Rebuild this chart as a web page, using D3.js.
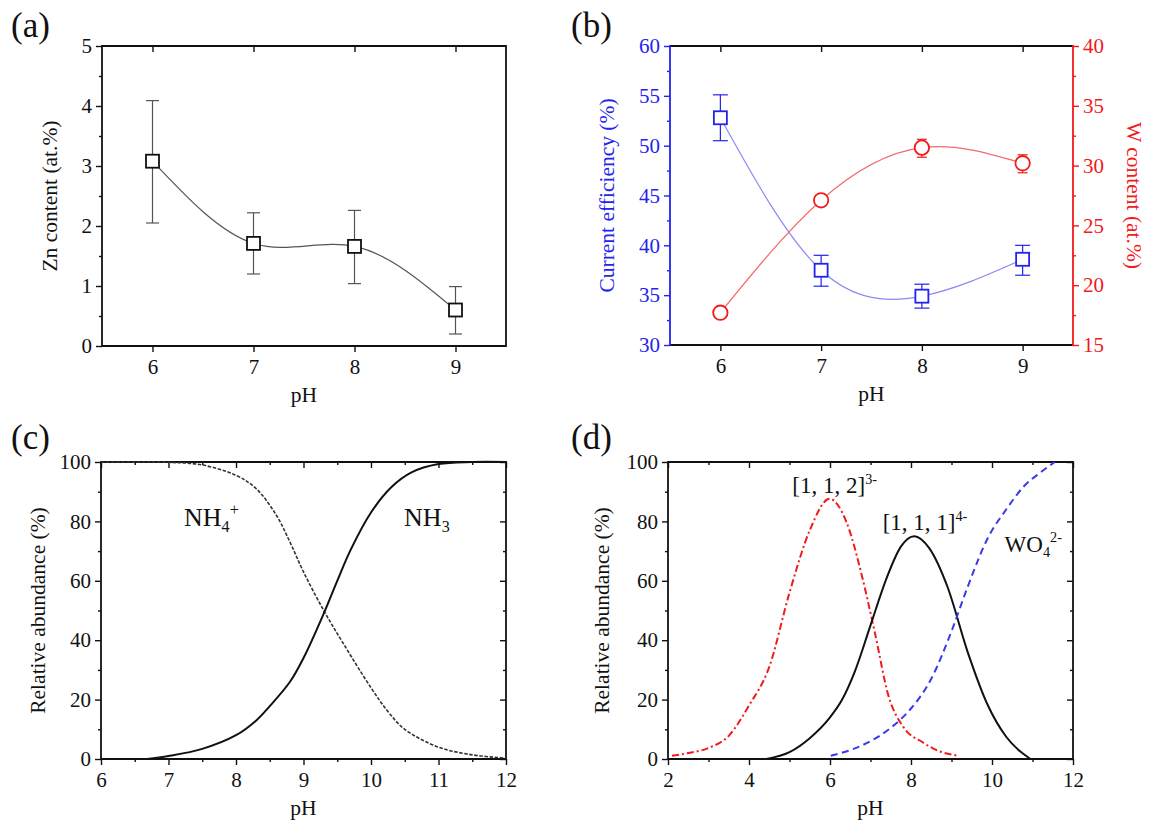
<!doctype html>
<meta charset="utf-8">
<style>
    body { margin: 0; background: #fff; }
    svg text { font-family: "Liberation Serif", "Times New Roman", serif; }
</style>
<body>
<script src="https://d3js.org/d3.v7.min.js"></script>
<script>
    // (a) Zn content vs pH
    const phA = [6, 7, 8, 9];
    const znContent = [3.08, 1.71, 1.66, 0.6];
    const znLow = [2.05, 1.2, 1.04, 0.2];
    const znHigh = [4.09, 2.22, 2.26, 0.99];

    // (b) current efficiency and W content vs pH
    const phB = [6, 7, 8, 9];
    const effValues = [52.8, 37.5, 34.9, 38.6];
    const effLow = [50.5, 35.9, 33.7, 37.0];
    const effHigh = [55.1, 39.0, 36.1, 40.0];
    const wValues = [17.7, 27.1, 31.5, 30.2];
    const wLow = [17.5, 26.7, 30.7, 29.4];
    const wHigh = [17.9, 27.5, 32.2, 30.9];

    // (c) NH4+ / NH3 distribution
    const nh3Ph = [6.68, 7.0, 7.5, 8.0, 8.3, 8.5, 8.8, 9.0, 9.3, 9.5, 9.7, 10.0, 10.3, 10.6, 11.0, 11.5, 12.0];
    const nh3Val = [0, 1.0, 3.4, 8.0, 13, 17.8, 26, 34, 49, 60, 70.5, 83, 91.5, 96.5, 99.3, 100, 100];
    const nh4Ph = [6.0, 6.5, 7.0, 7.5, 8.0, 8.3, 8.6, 8.8, 9.0, 9.3, 9.6, 10.0, 10.25, 10.5, 11.0, 11.5, 12.0];
    const nh4Val = [100, 100, 99.9, 99, 95.5, 91, 82, 73, 63, 50, 38.5, 24, 16, 10, 4, 1.4, 0.3];

    // (d) tungstate species distribution
    const c112Ph = [2.1, 2.5, 3.0, 3.5, 4.0, 4.5, 5.0, 5.5, 5.99, 6.4, 6.8, 7.1, 7.45, 7.8, 8.3, 8.7, 9.17];
    const c112Val = [1.1, 2.0, 3.7, 7.8, 18, 31, 56, 77, 87.6, 80, 61, 43, 21, 11, 5.5, 2.6, 1.1];
    const c111Ph = [4.43, 5.0, 5.5, 6.0, 6.3, 6.6, 7.0, 7.4, 7.75, 8.08, 8.45, 8.9, 9.4, 9.9, 10.35, 10.7, 10.95];
    const c111Val = [0, 2.3, 7, 14, 20, 29, 45, 61, 71.5, 75, 71, 58, 36, 18, 7.5, 2.5, 0];
    const wo4Ph = [6.02, 6.5, 7.0, 7.5, 8.0, 8.5, 9.0, 9.4, 9.9, 10.35, 10.8, 11.2, 11.55];
    const wo4Val = [1.1, 3, 6, 10.5, 17, 27, 43, 58, 74.5, 84, 92, 96.5, 100];

    const BLUE = '#2323f0';
    const RED = '#f21a1a';
    const FS = 21;      // tick labels
    const TS = 21.5;    // axis titles

    const svg = d3.select('body').append('svg')
        .attr('width', 1152)
        .attr('height', 827);

    function styleAxis(g, color) {
        g.select('.domain').remove();
        g.selectAll('.tick line').attr('stroke', color).attr('stroke-width', 1.4);
        g.selectAll('.tick text')
            .attr('fill', color)
            .attr('font-size', FS);
        return g;
    }

    // builds a framed panel with Origin-like ticks
    function panel(box, o) {
        const x = d3.scaleLinear().domain(o.xDomain).range([box.x0, box.x1]);
        const y = d3.scaleLinear().domain(o.yDomain).range([box.y1, box.y0]);
        const g = svg.append('g');
        const leftColor = o.leftColor || '#111';
        const axes = g.append('g');

        // bottom
        axes.append('g').attr('transform', `translate(0,${box.y1})`)
            .call(d3.axisBottom(x).tickValues(o.xTicks).tickSize(6).tickPadding(7).tickFormat(d3.format('d')))
            .call(styleAxis, '#111');
        if (o.xMinor) axes.append('g').attr('transform', `translate(0,${box.y1})`)
            .call(d3.axisBottom(x).tickValues(o.xMinor).tickSize(3).tickFormat(''))
            .call(styleAxis, '#111');
        // top (inward)
        axes.append('g').attr('transform', `translate(0,${box.y0})`)
            .call(d3.axisTop(x).tickValues(o.xTicks).tickSize(-6).tickFormat(''))
            .call(styleAxis, '#111');
        if (o.xMinor && o.mirrorMinor) axes.append('g').attr('transform', `translate(0,${box.y0})`)
            .call(d3.axisTop(x).tickValues(o.xMinor).tickSize(-3).tickFormat(''))
            .call(styleAxis, '#111');
        // left
        axes.append('g').attr('transform', `translate(${box.x0},0)`)
            .call(d3.axisLeft(y).tickValues(o.yTicks).tickSize(6).tickPadding(4).tickFormat(d3.format('d')))
            .call(styleAxis, leftColor);
        if (o.yMinor) axes.append('g').attr('transform', `translate(${box.x0},0)`)
            .call(d3.axisLeft(y).tickValues(o.yMinor).tickSize(3).tickFormat(''))
            .call(styleAxis, leftColor);
        // right mirror (inward)
        if (o.mirrorRight) {
            axes.append('g').attr('transform', `translate(${box.x1},0)`)
                .call(d3.axisRight(y).tickValues(o.yTicks).tickSize(-6).tickFormat(''))
                .call(styleAxis, '#111');
            if (o.yMinor) axes.append('g').attr('transform', `translate(${box.x1},0)`)
                .call(d3.axisRight(y).tickValues(o.yMinor).tickSize(-3).tickFormat(''))
                .call(styleAxis, '#111');
        }

        // frame lines
        const lw = 1.8;
        axes.append('line').attr('x1', box.x0).attr('x2', box.x1).attr('y1', box.y1).attr('y2', box.y1)
            .attr('stroke', '#111').attr('stroke-width', lw);
        axes.append('line').attr('x1', box.x0).attr('x2', box.x1).attr('y1', box.y0).attr('y2', box.y0)
            .attr('stroke', '#111').attr('stroke-width', lw);
        axes.append('line').attr('x1', box.x0).attr('x2', box.x0).attr('y1', box.y0 - 0.9).attr('y2', box.y1 + 0.9)
            .attr('stroke', leftColor).attr('stroke-width', lw);
        axes.append('line').attr('x1', box.x1).attr('x2', box.x1).attr('y1', box.y0 - 0.9).attr('y2', box.y1 + 0.9)
            .attr('stroke', o.rightColor || '#111').attr('stroke-width', lw);

        // titles
        const cx = (box.x0 + box.x1) / 2;
        const cy = (box.y0 + box.y1) / 2;
        g.append('text').attr('x', cx).attr('y', box.y1 + 56)
            .attr('text-anchor', 'middle').attr('font-size', TS).attr('fill', '#111').text('pH');
        g.append('text')
            .attr('transform', `translate(${o.yTitleX},${cy}) rotate(-90)`)
            .attr('text-anchor', 'middle').attr('dy', '0.33em')
            .attr('font-size', TS).attr('fill', leftColor).text(o.yTitle);
        g.append('text').attr('x', o.tagX).attr('y', o.tagY)
            .attr('font-size', 35).attr('fill', '#111').text(o.tag);

        return {g, x, y};
    }

    function errorBars(g, x, y, xs, lo, hi, color, cap) {
        const eb = g.append('g').attr('stroke', color).attr('stroke-width', 1.2);
        eb.selectAll('line.v').data(xs).enter().append('line')
            .attr('x1', d => x(d)).attr('x2', d => x(d))
            .attr('y1', (d, i) => y(lo[i])).attr('y2', (d, i) => y(hi[i]));
        eb.selectAll('line.lo').data(xs).enter().append('line')
            .attr('x1', d => x(d) - cap / 2).attr('x2', d => x(d) + cap / 2)
            .attr('y1', (d, i) => y(lo[i])).attr('y2', (d, i) => y(lo[i]));
        eb.selectAll('line.hi').data(xs).enter().append('line')
            .attr('x1', d => x(d) - cap / 2).attr('x2', d => x(d) + cap / 2)
            .attr('y1', (d, i) => y(hi[i])).attr('y2', (d, i) => y(hi[i]));
    }

    function curve(g, x, y, xs, ys, color, width, dash, kind) {
        const line = d3.line()
            .x(i => x(xs[i]))
            .y(i => y(ys[i]))
            .curve(kind || d3.curveMonotoneX);
        g.append('path')
            .attr('d', line(d3.range(xs.length)))
            .attr('fill', 'none')
            .attr('stroke', color)
            .attr('stroke-width', width)
            .attr('stroke-dasharray', dash || null);
    }

    // ---------- (a) ----------
    const pa = panel({x0: 102, x1: 506, y0: 46, y1: 346}, {
        xDomain: [5.5, 9.5], yDomain: [0, 5],
        xTicks: phA, yTicks: [0, 1, 2, 3, 4, 5], yMinor: [0.5, 1.5, 2.5, 3.5, 4.5],
        yTitle: 'Zn content (at.%)', yTitleX: 50, tag: '(a)', tagX: 11, tagY: 37
    });
    curve(pa.g, pa.x, pa.y, phA, znContent, '#555', 1.2, null, d3.curveNatural);
    errorBars(pa.g, pa.x, pa.y, phA, znLow, znHigh, '#555', 13);
    pa.g.selectAll('rect.m').data(phA).enter().append('rect')
        .attr('x', d => pa.x(d) - 6.5)
        .attr('y', (d, i) => pa.y(znContent[i]) - 6.5)
        .attr('width', 13).attr('height', 13)
        .attr('fill', '#fff').attr('stroke', '#111').attr('stroke-width', 1.8);

    // ---------- (b) ----------
    const pb = panel({x0: 670, x1: 1073, y0: 46, y1: 345}, {
        xDomain: [5.5, 9.5], yDomain: [30, 60],
        xTicks: phB, yTicks: [30, 35, 40, 45, 50, 55, 60], yMinor: [32.5, 37.5, 42.5, 47.5, 52.5, 57.5],
        leftColor: BLUE, rightColor: RED,
        yTitle: 'Current efficiency (%)', yTitleX: 607, tag: '(b)', tagX: 571, tagY: 37
    });
    const y2 = d3.scaleLinear().domain([15, 40]).range([345, 46]);
    pb.g.append('g').attr('transform', 'translate(1073,0)')
        .call(d3.axisRight(y2).tickValues([15, 20, 25, 30, 35, 40]).tickSize(6).tickPadding(4))
        .call(styleAxis, RED);
    pb.g.append('g').attr('transform', 'translate(1073,0)')
        .call(d3.axisRight(y2).tickValues([17.5, 22.5, 27.5, 32.5, 37.5]).tickSize(3).tickFormat(''))
        .call(styleAxis, RED);
    pb.g.append('text')
        .attr('transform', `translate(1134,${(46 + 345) / 2}) rotate(90)`)
        .attr('text-anchor', 'middle').attr('dy', '0.33em')
        .attr('font-size', TS).attr('fill', RED).text('W content (at.%)');

    curve(pb.g, pb.x, pb.y, phB, effValues, '#8a8af5', 1.2, null, d3.curveNatural);
    curve(pb.g, pb.x, y2, phB, wValues, '#f56a6a', 1.2, null, d3.curveNatural);
    errorBars(pb.g, pb.x, pb.y, phB, effLow, effHigh, BLUE, 15);
    errorBars(pb.g, pb.x, y2, phB, wLow, wHigh, RED, 10);
    pb.g.selectAll('rect.m').data(phB).enter().append('rect')
        .attr('x', d => pb.x(d) - 6.5)
        .attr('y', (d, i) => pb.y(effValues[i]) - 6.5)
        .attr('width', 13).attr('height', 13)
        .attr('fill', '#fff').attr('stroke', BLUE).attr('stroke-width', 1.8);
    pb.g.selectAll('circle.m').data(phB).enter().append('circle')
        .attr('cx', d => pb.x(d))
        .attr('cy', (d, i) => y2(wValues[i]))
        .attr('r', 7.2)
        .attr('fill', '#fff').attr('stroke', RED).attr('stroke-width', 1.8);

    // ---------- (c) ----------
    const pc = panel({x0: 101, x1: 506, y0: 462, y1: 759}, {
        xDomain: [6, 12], yDomain: [0, 100],
        xTicks: [6, 7, 8, 9, 10, 11, 12], xMinor: [6.5, 7.5, 8.5, 9.5, 10.5, 11.5],
        yTicks: [0, 20, 40, 60, 80, 100], yMinor: [10, 30, 50, 70, 90],
        mirrorMinor: true, mirrorRight: true,
        yTitle: 'Relative abundance (%)', yTitleX: 38, tag: '(c)', tagX: 11, tagY: 449
    });
    const smooth = d3.curveCatmullRom.alpha(0.5);
    curve(pc.g, pc.x, pc.y, nh4Ph, nh4Val, '#333', 1.6, '3.5,1.6', smooth);
    curve(pc.g, pc.x, pc.y, nh3Ph, nh3Val, '#111', 2, null, smooth);

    function label(g, px, py, parts, size) {
        const t = g.append('text').attr('x', px).attr('y', py).attr('font-size', size).attr('fill', '#111');
        parts.forEach(p => {
            const s = t.append('tspan').text(p.t);
            if (p.sub) s.attr('font-size', size * 0.62).attr('dy', size * 0.22);
            if (p.sup) s.attr('font-size', size * 0.62).attr('dy', p.after ? -size * 0.62 : -size * 0.4);
        });
        return t;
    }
    label(pc.g, pc.x(7.23), pc.y(78.5), [{t: 'NH'}, {t: '4', sub: true}, {t: '+', sup: true, after: true}], 26);
    label(pc.g, pc.x(10.49), pc.y(78.5), [{t: 'NH'}, {t: '3', sub: true}], 26);

    // ---------- (d) ----------
    const pd = panel({x0: 668, x1: 1073, y0: 462, y1: 759}, {
        xDomain: [2, 12], yDomain: [0, 100],
        xTicks: [2, 4, 6, 8, 10, 12], xMinor: [3, 5, 7, 9, 11],
        yTicks: [0, 20, 40, 60, 80, 100], yMinor: [10, 30, 50, 70, 90],
        mirrorMinor: true, mirrorRight: true,
        yTitle: 'Relative abundance (%)', yTitleX: 602, tag: '(d)', tagX: 571, tagY: 449
    });
    curve(pd.g, pd.x, pd.y, c112Ph, c112Val, RED, 2, '7,3,2,3');
    curve(pd.g, pd.x, pd.y, c111Ph, c111Val, '#111', 2);
    curve(pd.g, pd.x, pd.y, wo4Ph, wo4Val, '#3a3ae8', 2, '7,4.5');

    label(pd.g, pd.x(5.07), pd.y(89.6), [{t: '[1, 1, 2]'}, {t: '3-', sup: true}], 23);
    label(pd.g, pd.x(7.3), pd.y(77), [{t: '[1, 1, 1]'}, {t: '4-', sup: true}], 23);
    label(pd.g, pd.x(10.31), pd.y(69.8), [{t: 'WO'}, {t: '4', sub: true}, {t: '2-', sup: true, after: true}], 23);
</script>
